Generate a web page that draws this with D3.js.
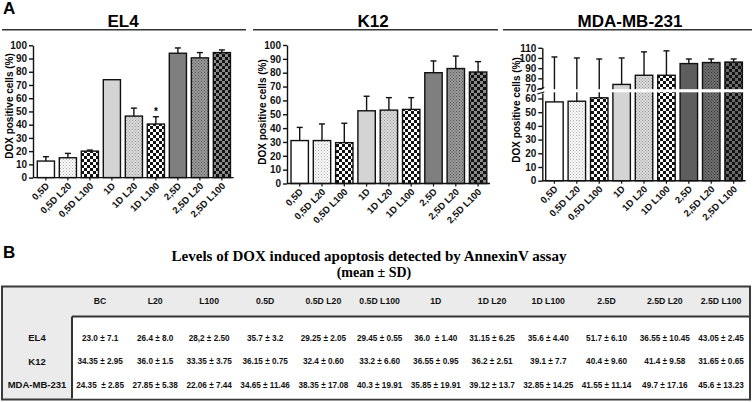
<!DOCTYPE html>
<html><head><meta charset="utf-8">
<script src="https://cdn.jsdelivr.net/npm/d3@7"></script>
<style>
body{margin:0;background:#fff;}
text{font-family:"Liberation Sans",Arial,sans-serif;font-weight:bold;}
</style></head>
<body>
<script>
// ---------- DATA ----------
const categories = ["0,5D","0,5D L20","0,5D L100","1D","1D L20","1D L100","2,5D","2,5D L20","2,5D L100"];
const el4Mean = [12.5, 15, 20, 74, 46.5, 40.5, 94, 90.5, 94.5];
const el4Err  = [3.3, 3.3, 0.8, 0, 6, 5.5, 4, 4, 2];
const k12Mean = [31, 31, 29.5, 52.5, 53, 53.5, 80, 83, 80.5];
const k12Err  = [9.5, 12, 14, 10.5, 9, 8.5, 8.5, 9, 7.5];
const mdaMean = [57.5, 58, 60.5, 74, 83, 83, 94.5, 95.5, 96];
const mdaErr  = [43.5, 42, 38.5, 26, 23, 24, 4.5, 3.5, 3];
const yTicks100 = [0,10,20,30,40,50,60,70,80,90,100];
const mdaTicksLow = [0,10,20,30,40,50,60];
const mdaTicksHigh = [70,80,90,100,110];
const panelTitles = ["EL4","K12","MDA-MB-231"];
const yAxisTitle = "DOX positive cells (%)";

const tableTitle = "Levels of DOX induced apoptosis detected by AnnexinV assay";
const tableSubtitle = "(mean \u00b1 SD)";
const tableCols = ["BC","L20","L100","0.5D","0.5D L20","0.5D L100","1D","1D L20","1D L100","2.5D","2.5D L20","2.5D L100"];
const tableRows = ["EL4","K12","MDA-MB-231"];
const el4Cells = ["23.0 \u00b1 7.1","26.4 \u00b1 8.0","28,2 \u00b1 2.50","35.7 \u00b1 3.2","29.25 \u00b1 2.05","29.45 \u00b1 0.55","36.0  \u00b1 1.40","31.15 \u00b1 6.25","35.6 \u00b1 4.40","51.7 \u00b1 6.10","36.55 \u00b1 10.45","43.05 \u00b1 2.45"];
const k12Cells = ["34.35 \u00b1 2.95","36.0 \u00b1 1.5","33.35 \u00b1 3.75","36.15 \u00b1 0.75","32.4 \u00b1 0.60","33.2 \u00b1 6.60","36.55 \u00b1 0.95","36.2 \u00b1 2.51","39.1 \u00b1 7.7","40.4 \u00b1 9.60","41.4 \u00b1 9.58","31.65 \u00b1 0.65"];
const mdaCells = ["24.35  \u00b1 2.85","27.85 \u00b1 5.38","22.06 \u00b1 7.44","34.65 \u00b1 11.46","38.35 \u00b1 17.08","40.3 \u00b1 19.91","35.85 \u00b1 19.91","39.12 \u00b1 13.7","32.85 \u00b1 14.25","41.55 \u00b1 11.14","49.7 \u00b1 17.16","45.6 \u00b1 13.23"];

// ---------- SVG ----------
const W = 753, H = 402;
const svg = d3.select("body").append("svg").attr("width", W).attr("height", H);
const defs = svg.append("defs");

function checker(id, c1, c2, s){
  const p = defs.append("pattern").attr("id", id).attr("patternUnits","userSpaceOnUse")
    .attr("width", 2*s).attr("height", 2*s);
  p.append("rect").attr("width", 2*s).attr("height", 2*s).attr("fill", c1);
  p.append("rect").attr("width", s).attr("height", s).attr("fill", c2);
  p.append("rect").attr("x", s).attr("y", s).attr("width", s).attr("height", s).attr("fill", c2);
}
function stipple(id, bg, dot){
  const p = defs.append("pattern").attr("id", id).attr("patternUnits","userSpaceOnUse")
    .attr("width", 3).attr("height", 3);
  p.append("rect").attr("width", 3).attr("height", 3).attr("fill", bg);
  p.append("rect").attr("width", 1).attr("height", 1).attr("fill", dot);
  p.append("rect").attr("x", 1.5).attr("y", 1.5).attr("width", 1).attr("height", 1).attr("fill", dot);
}
checker("ckW", "#ffffff", "#111111", 3);
checker("ckG", "#8a8a8a", "#111111", 3);
checker("ckD", "#6a6a6a", "#111111", 3);
stipple("stW", "#ffffff", "#a8a8a8");
stipple("stL", "#dadada", "#9a9a9a");
stipple("stG", "#9a9a9a", "#555555");
stipple("stD", "#707070", "#333333");

const fillsStd = ["#ffffff","url(#stW)","url(#ckW)","#d4d4d4","url(#stL)","url(#ckW)","#7f7f7f","url(#stG)","url(#ckG)"];
const fillsMda = ["#ffffff","url(#stW)","url(#ckW)","#d4d4d4","url(#stL)","url(#ckW)","#5e5e5e","url(#stD)","url(#ckD)"];

svg.append("text").attr("x",3).attr("y",14).attr("font-size",17).text("A");
svg.append("text").attr("x",3).attr("y",258).attr("font-size",17).text("B");

// ---------- PANELS ----------
const panels = [
  {title: panelTitles[0], tx:123, lx0:2, lx1:246, axisX:33, firstLeft:37.3, step:22, y0:177.6, yTop:45.3,
   means: el4Mean, errs: el4Err, fills: fillsStd, ylabX: 9, ylabY: 106, star: 5},
  {title: panelTitles[1], tx:373, lx0:253, lx1:498, axisX:287, firstLeft:291, step:22.3, y0:183.5, yTop:45,
   means: k12Mean, errs: k12Err, fills: fillsStd, ylabX: 262, ylabY: 112},
  {title: panelTitles[2], tx:630, lx0:503, lx1:752, axisX:542.3, firstLeft:545.7, step:22.4, y0:180.7,
   means: mdaMean, errs: mdaErr, fills: fillsMda, ylabX: 516, ylabY: 110, broken: true}
];

panels.forEach(P => {
  const g = svg.append("g");
  g.append("text").attr("x", P.tx).attr("y", 27).attr("text-anchor","middle").attr("font-size",17).text(P.title);
  g.append("line").attr("x1",P.lx0).attr("x2",P.lx1).attr("y1",29.8).attr("y2",29.8)
    .attr("stroke","#333").attr("stroke-width",1.4);

  const pi = 0.22, po = 0.1, n = categories.length;
  const r0 = P.firstLeft - P.step*po;
  const r1 = r0 + P.step*(n - pi + 2*po);
  const x = d3.scaleBand().domain(categories).range([r0, r1]).paddingInner(pi).paddingOuter(po);

  let yv, yLow, yHigh, gapTop, gapBot;
  if (P.broken){
    yLow = d3.scaleLinear().domain([0,64]).range([P.y0, 93.0]);
    yHigh = d3.scaleLinear().domain([70,110]).range([88.5, 47.8]);
    yv = v => v <= 64 ? yLow(v) : (v >= 70 ? yHigh(v) : yHigh(70));
    gapTop = yHigh(70); gapBot = yLow(64);
  } else {
    const y = d3.scaleLinear().domain([0,100]).range([P.y0, P.yTop]);
    yv = y; yLow = y;
  }

  g.selectAll("rect.bar").data(categories).join("rect").attr("class","bar")
    .attr("x", d => x(d)).attr("width", x.bandwidth())
    .attr("y", (d,i) => yv(P.means[i]))
    .attr("height", (d,i) => P.y0 - yv(P.means[i]))
    .attr("fill", (d,i) => P.fills[i])
    .attr("stroke", "#111").attr("stroke-width", 1.4);

  categories.forEach((c,i) => {
    if (P.errs[i] <= 0) return;
    const cx = x(c) + x.bandwidth()/2;
    const yt = yv(P.means[i] + P.errs[i]);
    g.append("line").attr("x1",cx).attr("x2",cx).attr("y1",yv(P.means[i])).attr("y2",yt)
      .attr("stroke","#111").attr("stroke-width",1.4);
    g.append("line").attr("x1",cx-3).attr("x2",cx+3).attr("y1",yt).attr("y2",yt)
      .attr("stroke","#111").attr("stroke-width",1.4);
  });

  if (P.star !== undefined){
    const c = categories[P.star];
    g.append("text").attr("x", x(c)+x.bandwidth()/2).attr("y", yv(P.means[P.star]+P.errs[P.star]) - 2)
      .attr("text-anchor","middle").attr("font-size",10).text("*");
  }

  if (P.broken){
    g.append("rect").attr("x", P.axisX-6).attr("y", gapTop+0.7).attr("width", r1 - P.axisX + 8)
      .attr("height", gapBot - gapTop - 1.4).attr("fill","#fff");
    const ax1 = g.append("g").attr("transform",`translate(${P.axisX},0)`)
      .call(d3.axisLeft(yLow).tickValues(mdaTicksLow).tickSize(4).tickSizeOuter(0).tickPadding(2));
    const ax2 = g.append("g").attr("transform",`translate(${P.axisX},0)`)
      .call(d3.axisLeft(yHigh).tickValues(mdaTicksHigh).tickSize(4).tickSizeOuter(0).tickPadding(2));
    [ax1, ax2].forEach(a => {
      a.selectAll("text").attr("font-size",10).attr("fill","#111");
      a.selectAll("line,path").attr("stroke","#111").attr("stroke-width",1.4);
    });
    [gapTop, gapBot].forEach(yy => {
      g.append("line").attr("x1",P.axisX-5).attr("x2",P.axisX+2).attr("y1",yy+1).attr("y2",yy-1)
        .attr("stroke","#111").attr("stroke-width",1.2);
    });
  } else {
    const ax = g.append("g").attr("transform",`translate(${P.axisX},0)`)
      .call(d3.axisLeft(yLow).tickValues(yTicks100).tickSize(4).tickSizeOuter(0).tickPadding(2));
    ax.selectAll("text").attr("font-size",10).attr("fill","#111");
    ax.selectAll("line,path").attr("stroke","#111").attr("stroke-width",1.4);
  }

  const xa = g.append("g").attr("transform",`translate(0,${P.y0})`)
    .call(d3.axisBottom(x).tickSize(3).tickSizeOuter(0));
  xa.select(".domain").remove();
  xa.selectAll("line").attr("stroke","#111").attr("stroke-width",1.2);
  xa.selectAll("text").attr("font-size",9.5).attr("fill","#111")
    .attr("x",0).attr("y",0).attr("dy",0)
    .attr("transform","translate(4,9) rotate(-45)").style("text-anchor","end");
  g.append("line").attr("x1",P.axisX).attr("x2",r1+1).attr("y1",P.y0).attr("y2",P.y0)
    .attr("stroke","#111").attr("stroke-width",1.4);

  g.append("text").attr("transform",`translate(${P.ylabX},${P.ylabY}) rotate(-90)`)
    .attr("text-anchor","middle").attr("dy","0.35em").attr("font-size",10).text(yAxisTitle);
});

// ---------- TABLE ----------
const serif = '"Liberation Serif","Times New Roman",serif';
svg.append("text").attr("x",369).attr("y",261).attr("text-anchor","middle")
  .style("font-family",serif).attr("font-size",15).text(tableTitle);
svg.append("text").attr("x",374).attr("y",277).attr("text-anchor","middle")
  .style("font-family",serif).attr("font-size",14).text(tableSubtitle);

const tTop = 286.5, tBot = 399.5, tLeft = 2, tRight = 750, sepY = 316.5, sepX = 72;
svg.append("rect").attr("x",tLeft).attr("y",tTop).attr("width",tRight-tLeft).attr("height",tBot-tTop)
  .attr("fill","#ebebeb").attr("stroke","#3a3a3a").attr("stroke-width",2);
svg.append("rect").attr("x",sepX).attr("y",sepY).attr("width",tRight-sepX-1).attr("height",tBot-sepY-1)
  .attr("fill","#ffffff");
svg.append("line").attr("x1",sepX).attr("x2",tRight-1).attr("y1",sepY).attr("y2",sepY)
  .attr("stroke","#333").attr("stroke-width",2);
svg.append("line").attr("x1",sepX).attr("x2",sepX).attr("y1",sepY).attr("y2",tBot-1)
  .attr("stroke","#333").attr("stroke-width",2);

const ry = d3.scalePoint().domain(tableRows).range([341, 388]);
svg.append("g").selectAll("text").data(tableRows).join("text")
  .attr("x", 37).attr("y", d => ry(d)).attr("text-anchor","middle")
  .attr("font-size",9.5).attr("fill","#111").text(d => d);

// cells first (to measure), then auto-size columns like an HTML table
const cellRows = [el4Cells, k12Cells, mdaCells];
const cellSel = [];
cellRows.forEach((cells, ri) => {
  const s = svg.append("g").selectAll("text").data(cells).join("text")
    .attr("y", ry(tableRows[ri]) - 0.5)
    .attr("text-anchor","middle").attr("font-size",8.2).attr("fill","#111")
    .style("white-space","pre")
    .text(d => d);
  cellSel.push(s);
});
const headSel = svg.append("g").selectAll("text").data(tableCols).join("text")
  .attr("y", 304).attr("text-anchor","middle").attr("font-size",8.7).attr("fill","#111").text(d => d);

const colW = tableCols.map((c, i) => {
  let w = headSel.nodes()[i].getComputedTextLength();
  cellSel.forEach(s => { w = Math.max(w, s.nodes()[i].getComputedTextLength()); });
  return w;
});
const avail = (tRight - 2) - sepX;
const extra = (avail - d3.sum(colW)) / tableCols.length;
const edges = [sepX];
colW.forEach(w => edges.push(edges[edges.length-1] + w + extra));
const colCenter = i => (edges[i] + edges[i+1]) / 2;
headSel.attr("x", (d,i) => colCenter(i));
cellSel.forEach(s => s.attr("x", (d,i) => colCenter(i)));
</script>
</body></html>
